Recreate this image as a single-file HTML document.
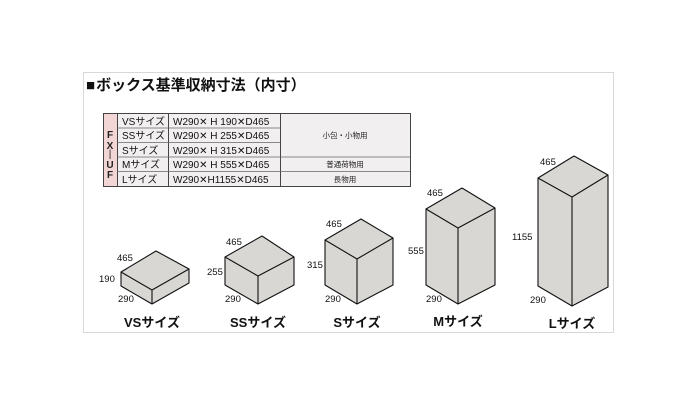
<!DOCTYPE html>
<html><head><meta charset="utf-8"><style>
body{margin:0;background:#fff;}
svg text{font-family:"Liberation Sans","Noto Sans CJK JP",sans-serif;}
</style></head><body>
<svg width="700" height="400" viewBox="0 0 700 400" xmlns="http://www.w3.org/2000/svg">
<rect x="83.5" y="72.5" width="530" height="260" fill="#fff" stroke="#d8d8d8"/>
<text x="86" y="90" font-size="15" font-weight="bold" fill="#111">■<tspan dx="1">ボックス基準収納寸法（内寸）</tspan></text>
<!-- table -->
<rect x="103.5" y="113.5" width="307" height="73" fill="#f1efef" stroke="#444"/>
<rect x="104" y="114" width="13" height="72" fill="#f2d6d6"/>
<line x1="117.5" y1="113" x2="117.5" y2="186" stroke="#444"/>
<line x1="168.5" y1="113" x2="168.5" y2="186" stroke="#444"/>
<line x1="280.5" y1="113" x2="280.5" y2="186" stroke="#444"/>
<g stroke="#666" stroke-width="0.8">
<line x1="117" y1="128" x2="280" y2="128"/>
<line x1="117" y1="142.5" x2="280" y2="142.5"/>
<line x1="117" y1="157" x2="410" y2="157"/>
<line x1="117" y1="171.5" x2="410" y2="171.5"/>
</g>
<g font-size="10" font-weight="bold" fill="#222" text-anchor="middle">
<text x="110" y="138">F</text><text x="110" y="149">X</text><text x="110" y="157" font-weight="normal">|</text><text x="110" y="168">U</text><text x="110" y="178">F</text>
</g>
<g font-size="10" fill="#111">
<text x="122" y="125">VSサイズ</text>
<text x="122" y="139">SSサイズ</text>
<text x="122" y="154">Sサイズ</text>
<text x="122" y="168">Mサイズ</text>
<text x="122" y="183">Lサイズ</text>
<text x="173" y="125">W290✕ H 190✕D465</text>
<text x="173" y="139">W290✕ H 255✕D465</text>
<text x="173" y="154">W290✕ H 315✕D465</text>
<text x="173" y="168">W290✕ H 555✕D465</text>
<text x="173" y="183">W290✕H1155✕D465</text>
</g>
<g font-size="7.5" fill="#222" text-anchor="middle">
<text x="345" y="138">小包・小物用</text>
<text x="345" y="167">普通荷物用</text>
<text x="345" y="182">長物用</text>
</g>
<!-- boxes -->
<g fill="#d8d7d3" stroke="#111" stroke-width="1.1" stroke-linejoin="round">
<path d="M121,272 L156,251 L189,269 L189,283 L152,304 L121,286 Z"/><path d="M121,272 L152,290 L189,269 M152,290 L152,304"/>
<path d="M225,257 L262,236 L294,257 L294,285 L258,304 L225,285 Z"/><path d="M225,257 L258,276 L294,257 M258,276 L258,304"/>
<path d="M325,240 L361,219 L393,238 L393,285 L357,304 L325,285 Z"/><path d="M325,240 L357,259 L393,238 M357,259 L357,304"/>
<path d="M426,209 L462,188 L495,208 L495,285 L458,304 L426,285 Z"/><path d="M426,209 L458,228 L495,208 M458,228 L458,304"/>
<path d="M538,178 L574,156 L608,175 L608,287 L572,306 L538,286 Z"/><path d="M538,178 L572,197 L608,175 M572,197 L572,306"/>
</g>
<g font-size="9.5" fill="#111">
<text x="117" y="261">465</text><text x="99" y="282">190</text><text x="118" y="302">290</text>
<text x="226" y="245">465</text><text x="207" y="275">255</text><text x="225" y="302">290</text>
<text x="326" y="227">465</text><text x="307" y="268">315</text><text x="325" y="302">290</text>
<text x="427" y="196">465</text><text x="408" y="254">555</text><text x="426" y="302">290</text>
<text x="540" y="165">465</text><text x="512" y="240">1155</text><text x="530" y="303">290</text>
</g>
<g font-size="13" font-weight="bold" fill="#111" text-anchor="middle">
<text x="152" y="327">VSサイズ</text>
<text x="258" y="327">SSサイズ</text>
<text x="357" y="327">Sサイズ</text>
<text x="458" y="326">Mサイズ</text>
<text x="572" y="328">Lサイズ</text>
</g>
</svg>
</body></html>
